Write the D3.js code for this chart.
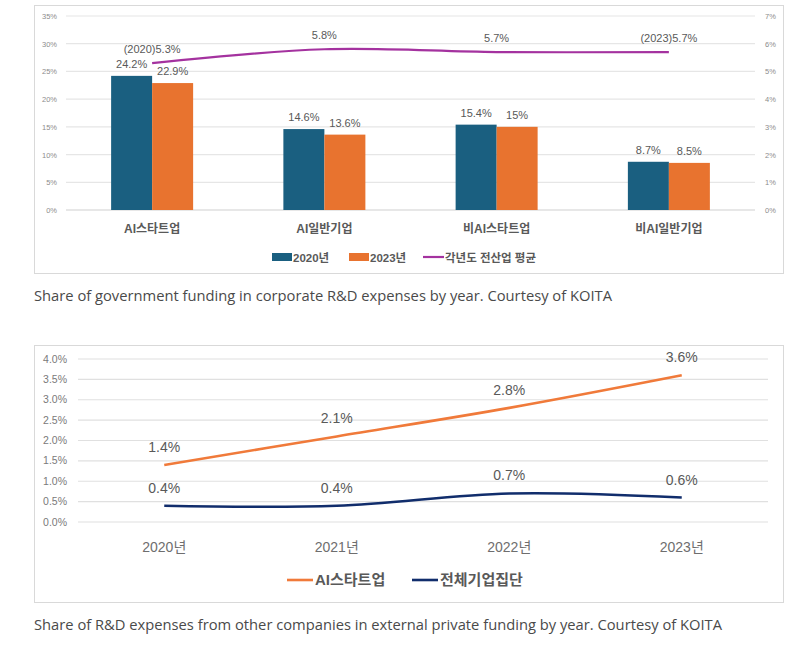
<!DOCTYPE html>
<html>
<head>
<meta charset="utf-8">
<script src="https://cdn.jsdelivr.net/npm/d3@7"></script>
<style>
  body { margin: 0; background: #fff; }
  svg text { font-family: "Liberation Sans", Arial, "Noto Sans CJK KR", sans-serif; }
  .caption { font-family: "Open Sans", "Noto Sans", sans-serif; fill: #4a4a4a; font-size: 14.5px; }
  .kr { font-family: "Liberation Sans", "Noto Sans CJK KR", sans-serif; }
</style>
</head>
<body>
<svg id="chart" width="798" height="655"></svg>
<script>
// ---- chart 1 data ----
let groups = ['AI스타트업', 'AI일반기업', '비AI스타트업', '비AI일반기업']
let years1 = ['2020년', '2023년']
let bars2020 = [24.2, 14.6, 15.4, 8.7]
let bars2023 = [22.9, 13.6, 15, 8.5]
let industryAvg = [5.3, 5.8, 5.7, 5.7]
let avgLabels = ['(2020)5.3%', '5.8%', '5.7%', '(2023)5.7%']
let leftTicks = [0, 5, 10, 15, 20, 25, 30, 35]
let rightTicks = [0, 1, 2, 3, 4, 5, 6, 7]

// ---- chart 2 data ----
let years2 = ['2020년', '2021년', '2022년', '2023년']
let aiStartup = [1.4, 2.1, 2.8, 3.6]
let allCompanies = [0.4, 0.4, 0.7, 0.6]
let ticks2 = [0, 0.5, 1, 1.5, 2, 2.5, 3, 3.5, 4]

let blue = '#1a5f80', orange = '#e8732f', purple = '#a4329f'
let lineOrange = '#f07a3a', navy = '#112d6c'

let svg = d3.select('#chart')

/* -------------- CHART 1 -------------- */

svg.append('rect')
    .attr('x', 34.5).attr('y', 5.5).attr('width', 749).attr('height', 268)
    .attr('fill', 'none').attr('stroke', '#d9d9d9')

let x1 = d3.scaleBand().domain(groups).range([66, 755])
let xi = d3.scaleBand().domain(years1).range([0, 82])
let y1 = d3.scaleLinear().domain([0, 35]).range([210, 16])
let y1r = d3.scaleLinear().domain([0, 7]).range([210, 16])

let g1 = svg.append('g')

g1.selectAll('.grid1')
    .data(leftTicks)
    .enter().append('line')
    .attr('x1', 66).attr('x2', 755)
    .attr('y1', d => y1(d)).attr('y2', d => y1(d))
    .attr('stroke', d => d == 0 ? '#d0d0d0' : '#e6e6e6').attr('stroke-width', 1.2)

g1.selectAll('.lt')
    .data(leftTicks)
    .enter().append('text')
    .attr('x', 57).attr('y', d => y1(d) + 3)
    .attr('text-anchor', 'end').attr('font-size', 7.5).attr('fill', '#8c8c8c')
    .text(d => d + '%')

g1.selectAll('.rt')
    .data(rightTicks)
    .enter().append('text')
    .attr('x', 765).attr('y', d => y1r(d) + 3)
    .attr('font-size', 7.5).attr('fill', '#8c8c8c')
    .text(d => d + '%')

let barData = []
groups.forEach(function(gname, i){
    barData.push({ group: gname, year: years1[0], value: bars2020[i], color: blue })
    barData.push({ group: gname, year: years1[1], value: bars2023[i], color: orange })
})

let off = (x1.bandwidth() - 82) / 2

g1.selectAll('.bar')
    .data(barData)
    .enter().append('rect')
    .attr('x', d => x1(d.group) + off + xi(d.year))
    .attr('y', d => y1(d.value))
    .attr('width', xi.bandwidth())
    .attr('height', d => 210 - y1(d.value))
    .attr('fill', d => d.color)

g1.selectAll('.barlabel')
    .data(barData)
    .enter().append('text')
    .attr('x', d => x1(d.group) + off + xi(d.year) + xi.bandwidth() / 2)
    .attr('y', d => y1(d.value) - 8)
    .attr('text-anchor', 'middle').attr('font-size', 11).attr('fill', '#595959')
    .text(d => d.value + '%')

let cx1 = d => x1(d) + x1.bandwidth() / 2

let line1 = d3.line()
    .x((d, i) => cx1(groups[i]))
    .y(d => y1r(d))
    .curve(d3.curveCatmullRom)

g1.append('path')
    .datum(industryAvg)
    .attr('d', line1)
    .attr('fill', 'none').attr('stroke', purple).attr('stroke-width', 2.2)

g1.selectAll('.avglabel')
    .data(industryAvg)
    .enter().append('text')
    .attr('x', (d, i) => cx1(groups[i]))
    .attr('y', d => y1r(d) - 10)
    .attr('text-anchor', 'middle').attr('font-size', 11).attr('fill', '#595959')
    .text((d, i) => avgLabels[i])

g1.selectAll('.cat')
    .data(groups)
    .enter().append('text')
    .attr('class', 'kr')
    .attr('x', d => cx1(d)).attr('y', 233)
    .attr('text-anchor', 'middle').attr('font-size', 12).attr('font-weight', 'bold').attr('fill', '#595959')
    .text(d => d)

// legend 1
let leg1 = g1.append('g')
leg1.append('rect').attr('x', 272).attr('y', 253).attr('width', 20).attr('height', 8).attr('fill', blue)
leg1.append('text').attr('class', 'kr').attr('x', 293).attr('y', 261.5)
    .attr('font-size', 11.5).attr('font-weight', 'bold').attr('fill', '#595959').text(years1[0])
leg1.append('rect').attr('x', 349).attr('y', 253).attr('width', 20).attr('height', 8).attr('fill', orange)
leg1.append('text').attr('class', 'kr').attr('x', 370).attr('y', 261.5)
    .attr('font-size', 11.5).attr('font-weight', 'bold').attr('fill', '#595959').text(years1[1])
leg1.append('line').attr('x1', 423).attr('x2', 444).attr('y1', 257).attr('y2', 257)
    .attr('stroke', purple).attr('stroke-width', 2.2)
leg1.append('text').attr('class', 'kr').attr('x', 445).attr('y', 261.5)
    .attr('font-size', 11.5).attr('font-weight', 'bold').attr('fill', '#595959').text('각년도 전산업 평균')

svg.append('text').attr('class', 'caption')
    .attr('x', 34).attr('y', 301)
    .attr('textLength', 578).attr('lengthAdjust', 'spacingAndGlyphs')
    .text('Share of government funding in corporate R&D expenses by year. Courtesy of KOITA')

/* -------------- CHART 2 -------------- */

svg.append('rect')
    .attr('x', 34.5).attr('y', 345.5).attr('width', 749).attr('height', 257)
    .attr('fill', 'none').attr('stroke', '#d9d9d9')

let x2 = d3.scaleBand().domain(years2).range([78, 768])
let y2 = d3.scaleLinear().domain([0, 4]).range([522, 359])
let cx2 = d => x2(d) + x2.bandwidth() / 2

let g2 = svg.append('g')

g2.selectAll('.grid2')
    .data(ticks2)
    .enter().append('line')
    .attr('x1', 78).attr('x2', 768)
    .attr('y1', d => y2(d)).attr('y2', d => y2(d))
    .attr('stroke', '#e0e0e0').attr('stroke-width', 1.2)

g2.selectAll('.yt')
    .data(ticks2)
    .enter().append('text')
    .attr('x', 67).attr('y', d => y2(d) + 3.5)
    .attr('text-anchor', 'end').attr('font-size', 10.5).attr('fill', '#7a7a7a')
    .text(d => d.toFixed(1) + '%')

g2.selectAll('.xt')
    .data(years2)
    .enter().append('text')
    .attr('class', 'kr')
    .attr('x', d => cx2(d)).attr('y', 552)
    .attr('text-anchor', 'middle').attr('font-size', 14).attr('fill', '#6e6e6e')
    .text(d => d)

let line2 = d3.line()
    .x((d, i) => cx2(years2[i]))
    .y(d => y2(d))
    .curve(d3.curveCatmullRom)

let series2 = [
    { values: aiStartup, color: lineOrange },
    { values: allCompanies, color: navy }
]

series2.forEach(function(s){
    g2.append('path')
        .datum(s.values)
        .attr('d', line2)
        .attr('fill', 'none').attr('stroke', s.color).attr('stroke-width', 2.6)

    g2.selectAll(null)
        .data(s.values)
        .enter().append('text')
        .attr('x', (d, i) => cx2(years2[i]))
        .attr('y', d => y2(d) - 13)
        .attr('text-anchor', 'middle').attr('font-size', 14).attr('fill', '#595959')
        .text(d => d + '%')
})

// legend 2
let leg2 = g2.append('g')
leg2.append('line').attr('x1', 287).attr('x2', 313).attr('y1', 580).attr('y2', 580)
    .attr('stroke', lineOrange).attr('stroke-width', 2.6)
leg2.append('text').attr('class', 'kr').attr('x', 315).attr('y', 585)
    .attr('font-size', 15).attr('font-weight', 'bold').attr('fill', '#595959').text('AI스타트업')
leg2.append('line').attr('x1', 412).attr('x2', 438).attr('y1', 580).attr('y2', 580)
    .attr('stroke', navy).attr('stroke-width', 2.6)
leg2.append('text').attr('class', 'kr').attr('x', 440).attr('y', 585)
    .attr('font-size', 15).attr('font-weight', 'bold').attr('fill', '#595959').text('전체기업집단')

svg.append('text').attr('class', 'caption')
    .attr('x', 34).attr('y', 630)
    .attr('textLength', 688).attr('lengthAdjust', 'spacingAndGlyphs')
    .text('Share of R&D expenses from other companies in external private funding by year. Courtesy of KOITA')
</script>
</body>
</html>
